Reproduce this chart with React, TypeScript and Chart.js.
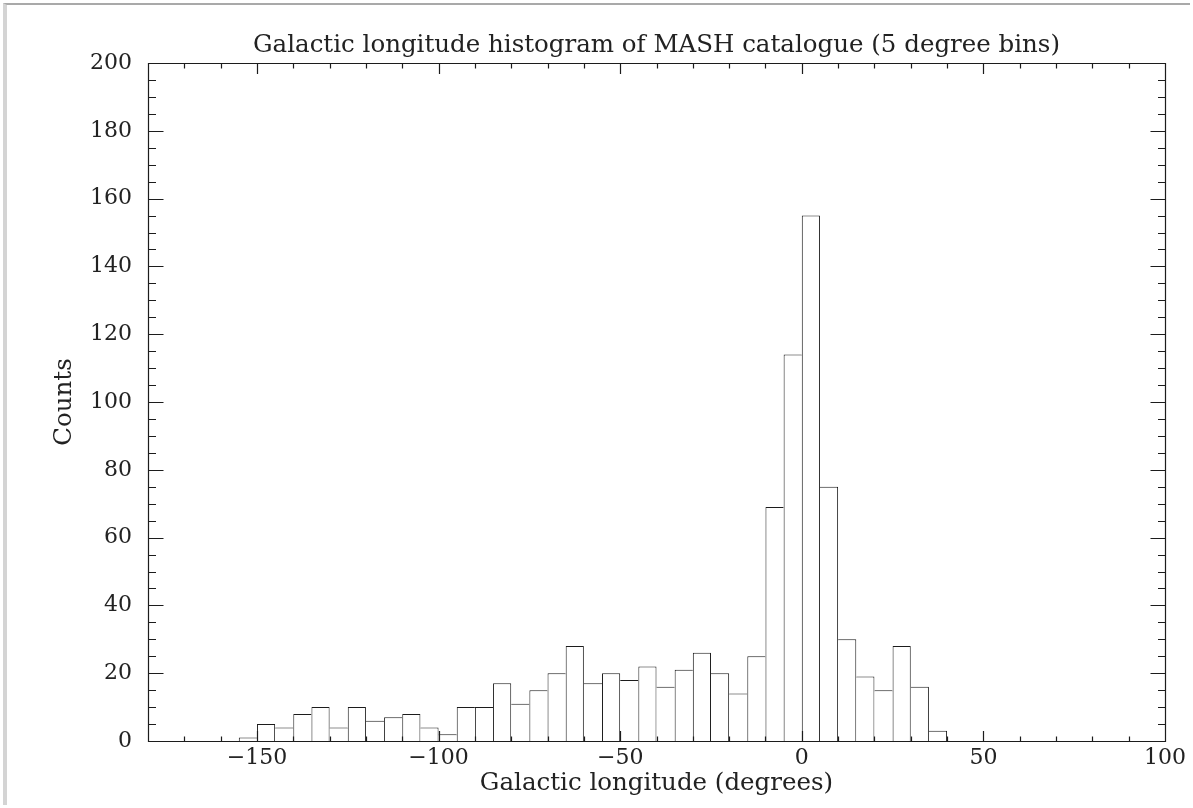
import React, { useEffect, useRef } from "react";
import { Chart, registerables } from "chart.js";

Chart.register(...registerables);

// ---- data (5-degree bins, left edges in degrees) ----
const BIN_LEFT = [
  -155, -150, -145, -140, -135, -130, -125, -120, -115, -110, -105, -100,
  -95, -90, -85, -80, -75, -70, -65, -60, -55, -50, -45, -40, -35, -30,
  -25, -20, -15, -10, -5, 0, 5, 10, 15, 20, 25, 30, 35,
];
const COUNTS = [
  1, 5, 4, 8, 10, 4, 10, 6, 7, 8, 4, 2,
  10, 10, 17, 11, 15, 20, 28, 17, 20, 18, 22, 16, 21, 26,
  20, 14, 25, 69, 114, 155, 75, 30, 19, 15, 28, 16, 3,
];
const BIN_WIDTH = 5;

const X_MIN = -180;
const X_MAX = 100;
const X_MAJOR_STEP = 50;
const X_MINOR_STEP = 10;
const Y_MIN = 0;
const Y_MAX = 200;
const Y_MAJOR_STEP = 20;
const Y_MINOR_STEP = 5;

const TITLE = "Galactic longitude histogram of MASH catalogue (5 degree bins)";
const X_TITLE = "Galactic longitude (degrees)";
const Y_TITLE = "Counts";

const FONT_FAMILY = "'DejaVu Serif', 'Liberation Serif', serif";
const TEXT_COLOR = "#222";
const LINE_COLOR = "#1c1c1c";
const TITLE_SIZE = 24.5;
const TICK_SIZE = 22;

const fmt = (v: number) => (v < 0 ? "\u2212" + Math.abs(v) : String(v));

const framePlugin = {
  id: "pgframe",
  afterDatasetsDraw(chart: any) {
    const { ctx, chartArea: a, scales } = chart;
    const x = scales.x;
    const y = scales.y;
    ctx.save();
    ctx.strokeStyle = LINE_COLOR;
    ctx.lineWidth = 1.2;
    const L = Math.round(a.left) + 0.5;
    const R = Math.round(a.right) + 0.5;
    const T = Math.round(a.top) + 0.5;
    const B = Math.round(a.bottom) + 0.5;
    ctx.beginPath();
    ctx.rect(L, T, R - L, B - T);
    for (let v = Math.ceil(x.min / X_MINOR_STEP) * X_MINOR_STEP; v <= x.max + 1e-9; v += X_MINOR_STEP) {
      const px = Math.round(x.getPixelForValue(v)) + 0.5;
      const len = v % X_MAJOR_STEP === 0 ? 10.5 : 5;
      ctx.moveTo(px, B);
      ctx.lineTo(px, B - len);
      ctx.moveTo(px, T);
      ctx.lineTo(px, T + len);
    }
    for (let v = Math.ceil(y.min / Y_MINOR_STEP) * Y_MINOR_STEP; v <= y.max + 1e-9; v += Y_MINOR_STEP) {
      const py = Math.round(y.getPixelForValue(v)) + 0.5;
      const len = v % Y_MAJOR_STEP === 0 ? 15 : 7.5;
      ctx.moveTo(L, py);
      ctx.lineTo(L + len, py);
      ctx.moveTo(R, py);
      ctx.lineTo(R - len, py);
    }
    ctx.stroke();
    ctx.restore();
  },
};

const titlePlugin = {
  id: "pgtitle",
  afterDraw(chart: any) {
    const { ctx, chartArea: a } = chart;
    ctx.save();
    ctx.font = `${TITLE_SIZE}px ${FONT_FAMILY}`;
    ctx.fillStyle = TEXT_COLOR;
    ctx.textAlign = "center";
    ctx.textBaseline = "alphabetic";
    ctx.fillText(TITLE, (a.left + a.right) / 2, 52);
    ctx.restore();
  },
};

export default function App() {
  const ref = useRef<HTMLCanvasElement | null>(null);

  useEffect(() => {
    if (!ref.current) return;
    const data = BIN_LEFT.map((l, i) => ({ x: l + BIN_WIDTH / 2, y: COUNTS[i] }));
    const chart = new Chart(ref.current, {
      type: "bar",
      data: {
        datasets: [
          {
            data,
            backgroundColor: "#ffffff",
            borderColor: LINE_COLOR,
            borderWidth: (c: any) => {
              const i = c.dataIndex;
              const h = COUNTS;
              const n = h.length;
              if (i === undefined) return 1;
              return {
                top: 1,
                left: i === 0 || h[i] >= h[i - 1] ? 1 : 0,
                right: i === n - 1 || h[i] > h[i + 1] ? 1 : 0,
                bottom: 0,
              };
            },
            borderSkipped: "start",
            barPercentage: 1,
            categoryPercentage: 1,
            inflateAmount: 0,
          } as any,
        ],
      },
      options: {
        animation: false,
        responsive: false,
        devicePixelRatio: 1,
        layout: { padding: { left: 0, right: 28, top: 63, bottom: 0 } },
        plugins: {
          legend: { display: false },
          tooltip: { enabled: false },
          title: { display: false },
        },
        scales: {
          x: {
            type: "linear",
            min: X_MIN,
            max: X_MAX,
            offset: false,
            grid: { display: false, drawTicks: false },
            border: { display: false },
            ticks: {
              stepSize: X_MAJOR_STEP,
              includeBounds: false,
              padding: 4,
              autoSkip: false,
              maxRotation: 0,
              color: TEXT_COLOR,
              font: { family: FONT_FAMILY, size: TICK_SIZE },
              callback: (v: any) => fmt(Number(v)),
            },
            title: {
              display: true,
              text: X_TITLE,
              color: TEXT_COLOR,
              font: { family: FONT_FAMILY, size: TITLE_SIZE },
              padding: { top: 0, bottom: 9.8 },
            },
            afterFit: (s: any) => {
              s.height = 67;
            },
          } as any,
          y: {
            type: "linear",
            min: Y_MIN,
            max: Y_MAX,
            grid: { display: false, drawTicks: false },
            border: { display: false },
            ticks: {
              stepSize: Y_MAJOR_STEP,
              padding: 16,
              color: TEXT_COLOR,
              font: { family: FONT_FAMILY, size: TICK_SIZE },
              callback: (v: any) => fmt(Number(v)),
            },
            title: {
              display: true,
              text: Y_TITLE,
              color: TEXT_COLOR,
              font: { family: FONT_FAMILY, size: TITLE_SIZE },
              padding: { top: 50.3, bottom: 0 },
            },
            afterFit: (s: any) => {
              s.width = 148;
            },
          } as any,
        },
      },
      plugins: [framePlugin, titlePlugin],
    });
    return () => chart.destroy();
  }, []);

  return (
    <div
      style={{
        position: "fixed",
        left: 0,
        top: 0,
        width: 1193,
        height: 808,
        background: "#fff",
        overflow: "hidden",
      }}
    >
      <canvas ref={ref} width={1193} height={808} style={{ display: "block", width: 1193, height: 808 }} />
      <div
        style={{
          position: "absolute",
          left: 3,
          top: 3,
          width: 1187,
          height: 802,
          borderTop: "2px solid #a9a9a9",
          borderLeft: "4px solid #d4d4d4",
          boxSizing: "border-box",
          pointerEvents: "none",
        }}
      />
    </div>
  );
}
